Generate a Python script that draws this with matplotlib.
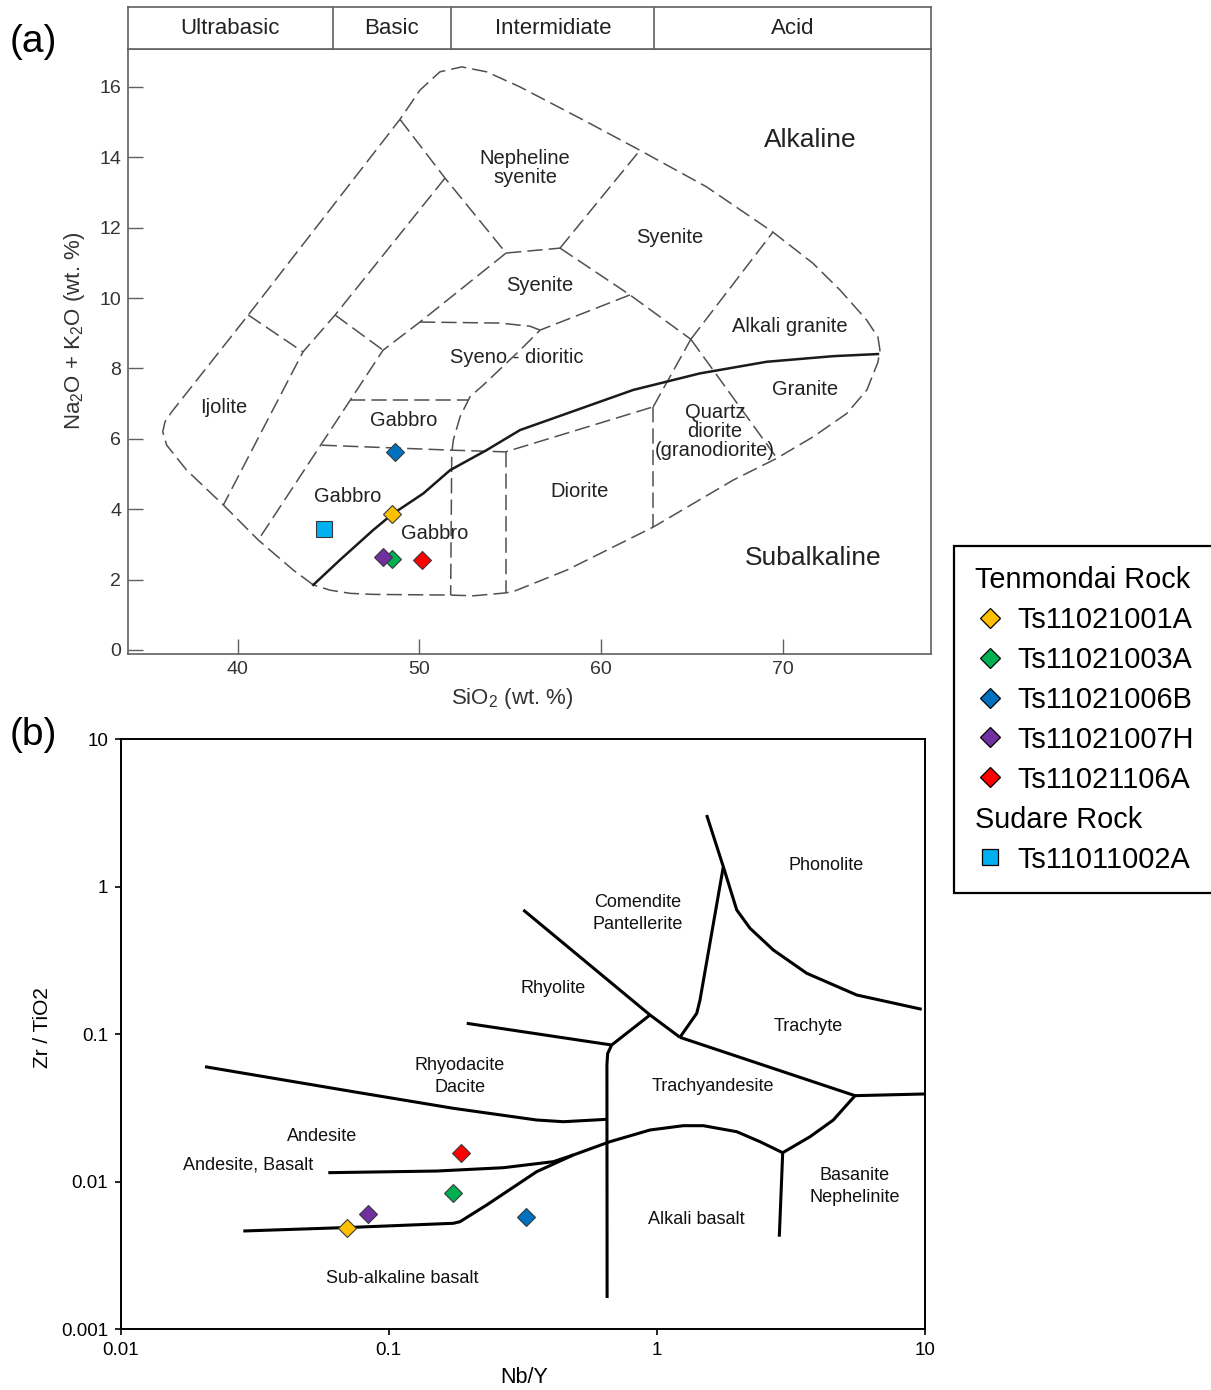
import matplotlib
matplotlib.use('Agg')
import matplotlib.pyplot as plt
from matplotlib.lines import Line2D
from matplotlib.ticker import NullLocator

plt.rcParams['font.family'] = ['Liberation Sans', 'DejaVu Sans']
plt.rcParams['mathtext.fontset'] = 'custom'
plt.rcParams['mathtext.rm'] = 'Liberation Sans'
plt.rcParams['mathtext.it'] = 'Liberation Sans:italic'

# ---------------- sample data ----------------
tenmondai = ['Ts11021001A', 'Ts11021003A', 'Ts11021006B', 'Ts11021007H', 'Ts11021106A']
tenmondai_sio2 = [48.52, 48.49, 48.67, 48.02, 50.17]
tenmondai_alk = [3.86, 2.59, 5.63, 2.65, 2.56]
tenmondai_nby = [0.070, 0.173, 0.325, 0.0839, 0.1854]
tenmondai_zrti = [0.00488, 0.00836, 0.00577, 0.00605, 0.0156]

sudare = ['Ts11011002A']
sudare_sio2 = [44.78]
sudare_alk = [3.43]

tenmondai_colors = ['#FFC000', '#00B050', '#0070C0', '#7030A0', '#FF0000']
sudare_colors = ['#00B0F0']

# ---------------- (a) TAS plutonic fields ----------------
rock_classes = ['Ultrabasic', 'Basic', 'Intermidiate', 'Acid']
class_edges = [45.25, 51.75, 62.95]

outer_x = [44.17, 43.07, 41.14, 39.22, 37.20, 36.10, 35.88, 36.01, 36.38, 40.59, 48.94,
           50.04, 51.14, 52.34, 53.71, 55.55, 59.22, 62.15, 65.82, 69.47, 71.67, 73.16,
           74.63, 75.25, 75.36, 75.25, 74.64, 73.53, 71.69, 69.69, 67.29, 62.87, 58.12,
           55.18, 54.72, 52.98, 51.73, 47.47, 46.19, 45.09, 44.17]
outer_y = [1.85, 2.27, 3.125, 4.12, 5.11, 5.82, 6.20, 6.49, 6.77, 9.52, 15.08,
           15.91, 16.43, 16.57, 16.43, 16.0, 15.01, 14.20, 13.16, 11.875, 10.99, 10.23,
           9.375, 8.89, 8.52, 8.18, 7.39, 6.72, 6.06, 5.45, 4.83, 3.49, 2.27,
           1.66, 1.62, 1.54, 1.56, 1.58, 1.61, 1.70, 1.85]

field_lines = [
    ([48.94, 51.42, 54.78], [15.08, 13.41, 11.28]),
    ([51.42, 45.37, 43.60, 39.22], [13.41, 9.52, 8.47, 4.12]),
    ([40.59, 43.60], [9.52, 8.47]),
    ([45.37, 48.01], [9.52, 8.52]),
    ([54.78, 50.04, 48.01, 41.14], [11.28, 9.32, 8.52, 3.125]),
    ([54.78, 57.75], [11.28, 11.42]),
    ([57.75, 62.15], [11.42, 14.20]),
    ([57.75, 61.60, 64.95], [11.42, 10.09, 8.83]),
    ([50.04, 54.45, 56.10, 56.65], [9.32, 9.29, 9.20, 9.09]),
    ([61.60, 56.65, 55.55, 53.53, 52.80, 52.25, 51.88, 51.79, 51.73],
     [10.09, 9.09, 8.52, 7.53, 7.20, 6.63, 5.97, 5.59, 1.56]),
    ([46.19, 52.75], [7.10, 7.10]),
    ([44.63, 51.70, 54.75, 62.88], [5.82, 5.68, 5.63, 6.91]),
    ([54.75, 54.75], [5.63, 1.62]),
    ([62.88, 62.88], [6.91, 3.50]),
    ([62.88, 64.95], [6.91, 8.83]),
    ([64.95, 69.47], [8.83, 11.875]),
    ([64.95, 69.69], [8.83, 5.45]),
]

divide_x = [44.17, 45.64, 47.47, 48.52, 50.23, 51.70, 53.71, 55.55, 58.12, 61.78, 65.45, 69.12, 72.79, 75.25]
divide_y = [1.85, 2.56, 3.41, 3.86, 4.45, 5.11, 5.68, 6.25, 6.72, 7.39, 7.86, 8.19, 8.35, 8.41]

tas_names = ['Nepheline\nsyenite', 'Syenite', 'Syenite', 'Alkali granite', 'Syeno - dioritic',
             'Ijolite', 'Gabbro', 'Granite', 'Quartz\ndiorite\n(granodiorite)', 'Gabbro',
             'Diorite', 'Gabbro']
tas_name_x = [55.83, 63.80, 56.65, 70.41, 55.38, 39.26, 49.16, 71.23, 66.28, 46.08, 58.85, 50.87]
tas_name_y = [13.71, 11.73, 10.37, 9.18, 8.30, 6.90, 6.51, 7.41, 6.22, 4.35, 4.49, 3.32]
series_names = ['Alkaline', 'Subalkaline']
series_x = [71.51, 71.67]
series_y = [14.49, 2.61]

# ---------------- (b) Winchester & Floyd fields ----------------
wf_lines = [
    ([0.3175, 0.9425, 1.219], [0.6966, 0.1352, 0.0954]),
    ([1.533, 1.769, 1.448, 1.408, 1.219], [3.068, 1.369, 0.1708, 0.1388, 0.0954]),
    ([1.769, 1.985, 2.225, 2.718, 3.620, 5.563, 9.72], [1.369, 0.6966, 0.5233, 0.3728, 0.2593, 0.1847, 0.1478]),
    ([1.219, 5.483, 10.0], [0.0954, 0.03836, 0.0394]),
    ([0.9425, 0.678], [0.1352, 0.0846]),
    ([0.1953, 0.678], [0.1187, 0.0846]),
    ([0.678, 0.655, 0.651, 0.652], [0.0846, 0.074, 0.062, 0.00163]),
    ([5.483, 4.550, 3.725, 2.946, 2.861], [0.03836, 0.02624, 0.02021, 0.01575, 0.004244]),
    ([2.946, 2.424, 1.985, 1.490, 1.254, 0.9425, 0.668, 0.4879, 0.356, 0.2318, 0.1843, 0.174, 0.0737, 0.02866],
     [0.01575, 0.0187, 0.02186, 0.02401, 0.02401, 0.02245, 0.0187, 0.0152, 0.01171, 0.006963, 0.005364,
      0.005232, 0.004914, 0.004639]),
    ([0.05947, 0.1509, 0.2674, 0.4108, 0.4879], [0.01153, 0.01183, 0.01246, 0.01369, 0.0152]),
    ([0.02063, 0.0737, 0.174, 0.356, 0.4476, 0.650], [0.0603, 0.04082, 0.0315, 0.02624, 0.02555, 0.02652]),
]

wf_names = ['Phonolite', 'Comendite\nPantellerite', 'Rhyolite', 'Trachyte', 'Trachyandesite',
            'Rhyodacite\nDacite', 'Andesite', 'Andesite, Basalt', 'Sub-alkaline basalt',
            'Basanite\nNephelinite', 'Alkali basalt']
wf_name_x = [4.272, 0.845, 0.4108, 3.670, 1.615, 0.1843, 0.05619, 0.02977, 0.1127, 5.449, 1.399]
wf_name_y = [1.384, 0.661, 0.205, 0.1126, 0.04413, 0.0516, 0.02044, 0.0130, 0.002217, 0.00926, 0.00559]

nby_ticks = [0.01, 0.1, 1, 10]
nby_ticklabels = ['0.01', '0.1', '1', '10']
zrti_ticks = [0.001, 0.01, 0.1, 1, 10]
zrti_ticklabels = ['0.001', '0.01', '0.1', '1', '10']

#################################################

W, H = 1211.0, 1390.0
fig = plt.figure(figsize=(W / 100, H / 100), dpi=100)


def box(l, t, r, b):
    return [l / W, 1 - b / H, (r - l) / W, (b - t) / H]


grey = '#606060'
dash_col = '#505050'

# ---- (a)
ax = fig.add_axes(box(128, 49.3, 931, 654))
ax.set_xlim(33.97, 78.17)
ax.set_ylim(-0.114, 17.07)

ax.plot(outer_x, outer_y, color=dash_col, lw=1.1, dashes=(10, 4))
for xs, ys in field_lines:
    ax.plot(xs, ys, color=dash_col, lw=1.1, dashes=(10, 4))
ax.plot(divide_x, divide_y, color='#1a1a1a', lw=1.8)

for name, x, y in zip(tas_names, tas_name_x, tas_name_y):
    ax.text(x, y, name, ha='center', va='center', fontsize=14.5, color='#222222', linespacing=1.0)
for name, x, y in zip(series_names, series_x, series_y):
    ax.text(x, y, name, ha='center', va='center', fontsize=19, color='#222222')

for x, y, c in zip(tenmondai_sio2, tenmondai_alk, tenmondai_colors):
    ax.plot(x, y, ls='none', marker='D', ms=8.7, mfc=c, mec='#3a3a3a', mew=0.8)
for x, y, c in zip(sudare_sio2, sudare_alk, sudare_colors):
    ax.plot(x, y, ls='none', marker='s', ms=11, mfc=c, mec='#3a3a3a', mew=0.8)

ax.set_xticks([40, 50, 60, 70])
ax.set_yticks(range(0, 17, 2))
ax.tick_params(direction='in', length=11, width=1, color=grey, labelsize=14,
               labelcolor='#333333', pad=5)
for sp in ax.spines.values():
    sp.set_color(grey)
    sp.set_linewidth(1.2)
ax.set_xlabel('SiO$_2$ (wt. %)', fontsize=16, color='#333333')
ax.xaxis.set_label_coords(0.478, -0.053)
ax.set_ylabel('Na$_2$O + K$_2$O (wt. %)', fontsize=16, color='#333333')
ax.yaxis.set_label_coords(-0.051, 0.535)

# header band
hx = fig.add_axes(box(128, 7.3, 931, 49.3))
hx.set_xlim(ax.get_xlim())
hx.set_ylim(0, 1)
edges = [ax.get_xlim()[0]] + class_edges + [ax.get_xlim()[1]]
for e in class_edges:
    hx.axvline(e, color=grey, lw=1.2)
for name, a, b in zip(rock_classes, edges[:-1], edges[1:]):
    hx.text((a + b) / 2, 0.5, name, ha='center', va='center', fontsize=16, color='#222222')
hx.set_xticks([])
hx.set_yticks([])
for sp in hx.spines.values():
    sp.set_color(grey)
    sp.set_linewidth(1.2)

# ---- (b)
bx = fig.add_axes(box(120.7, 739.3, 925, 1329.3))
bx.set_xscale('log')
bx.set_yscale('log')
bx.set_xlim(0.01, 10)
bx.set_ylim(0.001, 10)

for xs, ys in wf_lines:
    bx.plot(xs, ys, color='black', lw=2.2, solid_joinstyle='round', solid_capstyle='butt')
for name, x, y in zip(wf_names, wf_name_x, wf_name_y):
    bx.text(x, y, name, ha='center', va='center', fontsize=13, color='#111111', linespacing=1.42)

for x, y, c in zip(tenmondai_nby, tenmondai_zrti, tenmondai_colors):
    bx.plot(x, y, ls='none', marker='D', ms=9.5, mfc=c, mec='#3a3a3a', mew=0.8)

bx.set_xticks(nby_ticks)
bx.set_xticklabels(nby_ticklabels)
bx.set_yticks(zrti_ticks)
bx.set_yticklabels(zrti_ticklabels)
bx.xaxis.set_minor_locator(NullLocator())
bx.yaxis.set_minor_locator(NullLocator())
bx.tick_params(direction='out', length=4, width=1.2, labelsize=13.5, pad=5)
for sp in bx.spines.values():
    sp.set_linewidth(1.4)
bx.set_xlabel('Nb/Y', fontsize=15.5)
bx.xaxis.set_label_coords(0.502, -0.064)
bx.set_ylabel('Zr / TiO2', fontsize=15)
bx.yaxis.set_label_coords(-0.085, 0.512)

fig.text(33 / W, 1 - 42 / H, '(a)', fontsize=28, ha='center', va='center')
fig.text(33 / W, 1 - 735 / H, '(b)', fontsize=28, ha='center', va='center')

# ---- legend
blank = Line2D([], [], ls='none')
handles = [blank]
handles += [Line2D([], [], ls='none', marker='D', ms=9.7, mfc=c, mec='black', mew=0.9)
            for c in tenmondai_colors]
handles += [blank]
handles += [Line2D([], [], ls='none', marker='s', ms=12, mfc=c, mec='black', mew=0.9)
            for c in sudare_colors]
labels = ['Tenmondai Rock'] + tenmondai + ['Sudare Rock'] + sudare
leg = fig.legend(handles, labels, loc='upper left', bbox_to_anchor=(954 / W, 1 - 546 / H),
                 bbox_transform=fig.transFigure, borderaxespad=0, fontsize=20.8,
                 frameon=True, fancybox=False, edgecolor='black', framealpha=1,
                 borderpad=0.68, labelspacing=0.415, handlelength=1.13, handletextpad=0.4)
leg.get_frame().set_linewidth(1.6)
for i in (0, len(tenmondai) + 1):
    leg.get_texts()[i].set_x(-43)

fig.savefig('out.png', dpi=100)
